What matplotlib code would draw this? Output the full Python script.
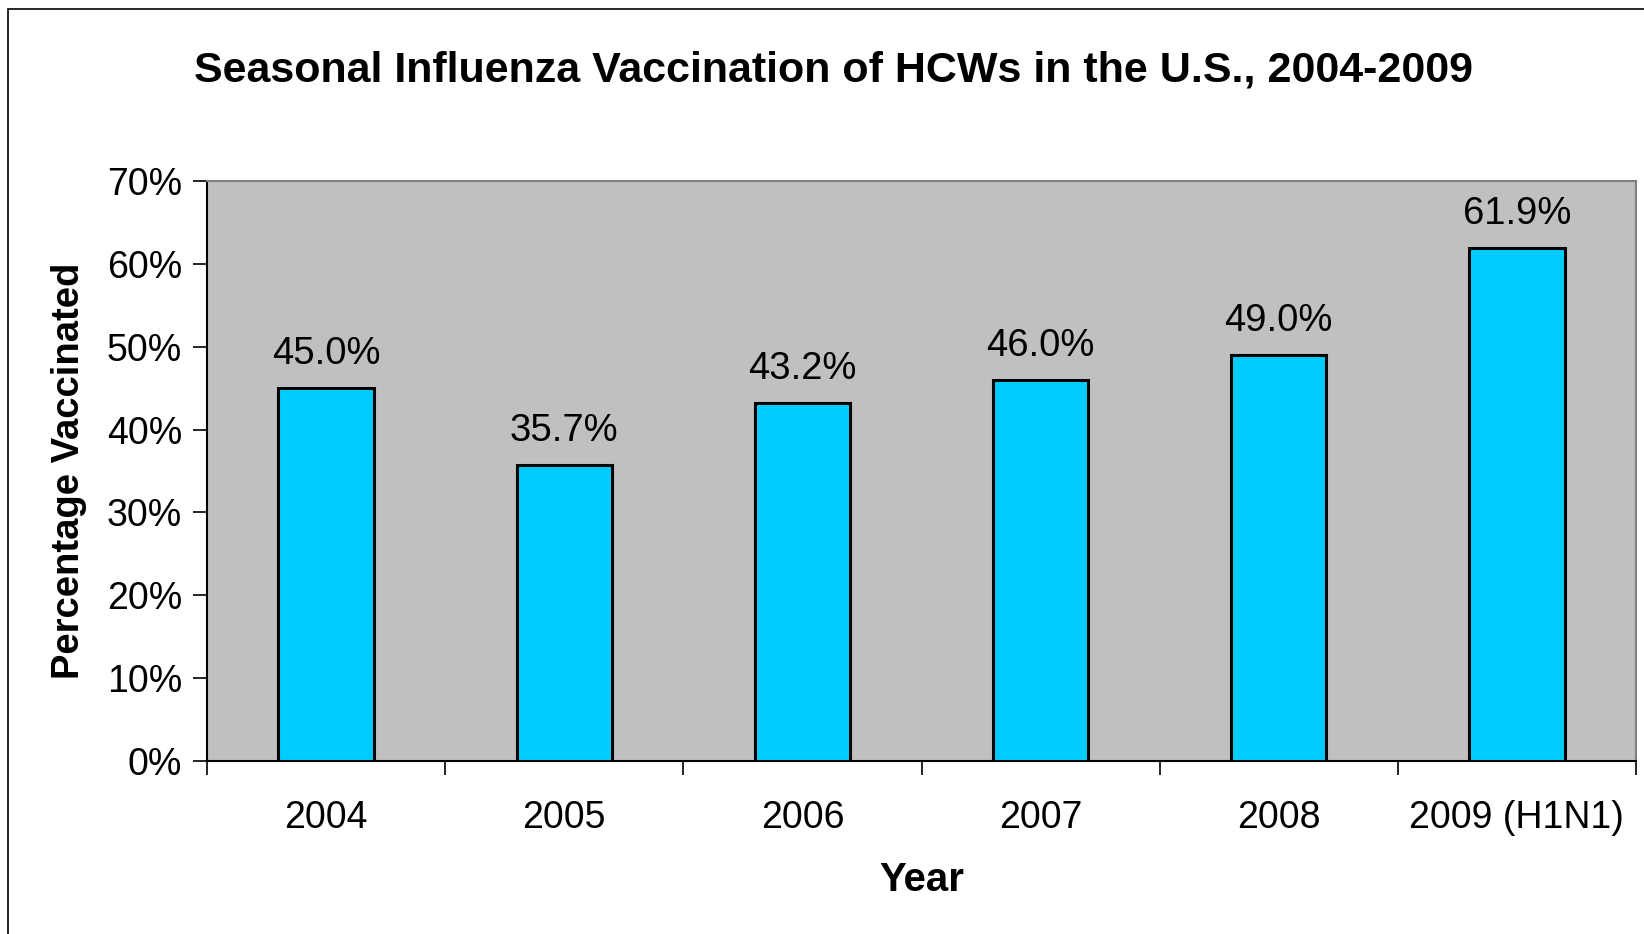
import matplotlib.pyplot as plt
from matplotlib.patches import Rectangle
from matplotlib.ticker import FixedLocator, NullFormatter

plt.rcParams['font.family'] = ['Liberation Sans', 'DejaVu Sans']

# Data
years = ['2004', '2005', '2006', '2007', '2008', '2009 (H1N1)']
pct_vaccinated = [45.0, 35.7, 43.2, 46.0, 49.0, 61.9]

W, H = 1644, 934
fig = plt.figure(figsize=(W / 100, H / 100), dpi=100)

# outer frame (only left and top visible in original crop)
fig.patches.append(Rectangle((8 / W, -0.1), 1.2, 1 - 9 / H + 0.1, transform=fig.transFigure,
                             fill=False, edgecolor='black', linewidth=1.2))

left, right, top, bottom = 207, 1636, 181, 761
ax = fig.add_axes([left / W, 1 - bottom / H, (right - left) / W, (bottom - top) / H])
ax.set_facecolor('#C0C0C0')

x = range(len(years))
bars = ax.bar(x, pct_vaccinated, width=0.40, color='#00CCFF', edgecolor='black', linewidth=2.2, zorder=3)

for xi, v in zip(x, pct_vaccinated):
    ax.text(xi, v + 1.9, f'{v:.1f}%', ha='center', va='bottom', fontsize=27.5)

ax.set_xlim(-0.5, len(years) - 0.5)
ax.set_ylim(0, 70)
ax.set_yticks(range(0, 71, 10))
ax.set_yticklabels([f'{t}%' for t in range(0, 71, 10)], fontsize=27)
ax.tick_params(axis='y', length=10, width=1.2, pad=8, direction='out')

# category labels between boundary ticks
ax.set_xticks(list(x))
ax.set_xticklabels(years, fontsize=27)
ax.tick_params(axis='x', length=0, pad=28)
ax.xaxis.set_minor_locator(FixedLocator([i - 0.5 for i in range(len(years) + 1)]))
ax.xaxis.set_minor_formatter(NullFormatter())
ax.tick_params(axis='x', which='minor', length=10, width=1.2, direction='out')

for s in ['left', 'bottom']:
    ax.spines[s].set_color('black')
    ax.spines[s].set_linewidth(1.5)
for s in ['top', 'right']:
    ax.spines[s].set_color('#808080')
    ax.spines[s].set_linewidth(1.5)

ax.set_ylabel('Percentage Vaccinated', fontsize=27.5, fontweight='bold', labelpad=14)
ax.set_xlabel('Year', fontsize=29, fontweight='bold', labelpad=18)
fig.text(0.507, 1 - 70 / H, 'Seasonal Influenza Vaccination of HCWs in the U.S., 2004-2009',
         ha='center', va='center', fontsize=31, fontweight='bold')

fig.savefig('out.png', dpi=100)
